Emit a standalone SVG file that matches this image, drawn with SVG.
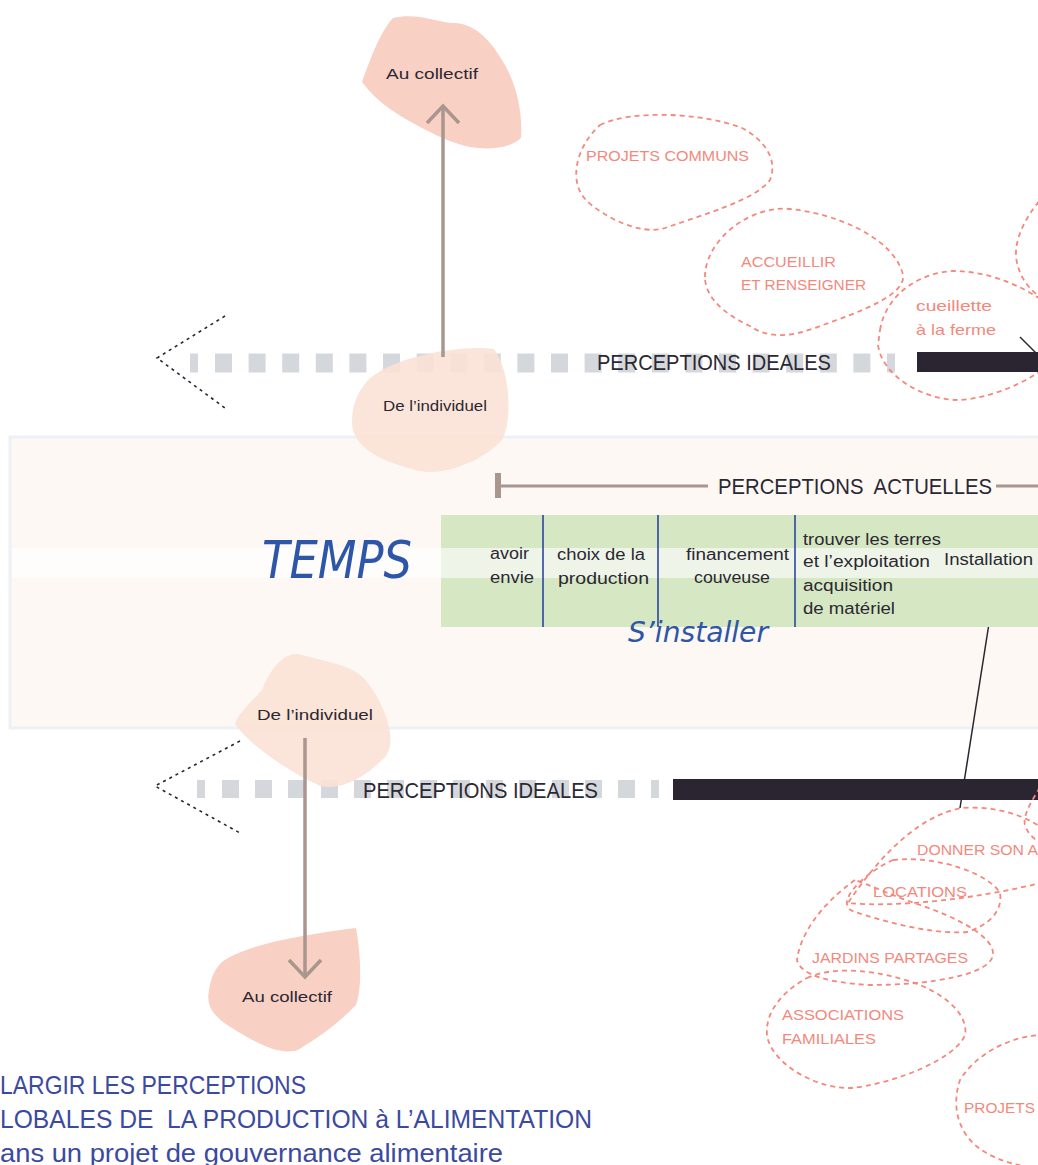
<svg xmlns="http://www.w3.org/2000/svg" width="1038" height="1165" viewBox="0 0 1038 1165">
<style>
.t{font-family:"Liberation Sans",Arial,sans-serif;fill:#2b2832}
.cell{font-size:16px}
.big{font-size:22px}
.small{font-size:14px}
.pk{font-family:"Liberation Sans",Arial,sans-serif;font-size:15px;fill:#f2897c}
.bub{fill:none;stroke:#f4887b;stroke-width:1.8;stroke-dasharray:5 4}
.blobA{fill:#f9d0c4}
.blobB{fill:#fbe1d5;opacity:0.9}
.sq{stroke:#d4d7dc;fill:none}
.chev{fill:none;stroke:#2a2530;stroke-width:1.6;stroke-dasharray:3 4}
.arr{fill:none;stroke:#a8968f;stroke-width:3.5}
.hand{font-family:"DejaVu Sans",sans-serif;font-style:italic;font-weight:200;fill:#2d55a8}
.blue{font-family:"Liberation Sans",Arial,sans-serif;font-size:25px;fill:#3b4aa0}
.vl{stroke:#2a46a0;stroke-width:1.6}
</style>

<!-- Time band -->
<g id="band">
  <rect x="10" y="437" width="1040" height="291" fill="#fdf8f4" stroke="#edf1f7" stroke-width="3"/>
  <rect x="12" y="548" width="1030" height="30" fill="#fefdfb"/>
  <text class="hand" x="262" y="578" font-size="52" textLength="150" lengthAdjust="spacingAndGlyphs">TEMPS</text>
</g>

<!-- blobs -->
<g id="au-collectif-top">
  <path class="blobA" d="M362,82 C370,60 380,32 393,18 C420,12 440,24 456,23 C476,25 490,40 502,60 C516,82 523,112 521,138 C510,149 486,150 470,147 C450,143 432,133 420,127 C400,116 378,104 362,82 Z"/>
  <text class="t small" x="386" y="79" textLength="92" lengthAdjust="spacingAndGlyphs">Au collectif</text>
</g>

<g id="au-collectif-bottom">
  <path class="blobA" d="M222,962 C245,945 300,935 356,928 C360,950 363,985 356,1005 C340,1022 318,1038 298,1050 C278,1056 255,1042 232,1028 C212,1016 206,1005 209,990 C211,978 214,970 222,962 Z"/>
  <text class="t small" x="242" y="1002" textLength="90" lengthAdjust="spacingAndGlyphs">Au collectif</text>
</g>

<!-- gray dotted lines (ideal perceptions) -->
<g id="connectors">
  <line class="sq" x1="190" y1="363" x2="198" y2="363" stroke-width="19"/>
  <line class="sq" x1="215" y1="363" x2="895" y2="363" stroke-width="19" stroke-dasharray="17 16.6"/>
  <line class="sq" x1="197" y1="789" x2="205" y2="789" stroke-width="18"/>
  <line class="sq" x1="222" y1="789" x2="659" y2="789" stroke-width="18" stroke-dasharray="17 16"/>
  <path class="chev" d="M225,316 L157,358 L225,408"/>
  <path class="chev" d="M240,741 L155,786 L240,833"/>
  <rect x="917" y="352" width="125" height="20" fill="#2a2530"/>
  <line x1="1020" y1="337" x2="1040" y2="357" stroke="#2a2530" stroke-width="1.5"/>
  <rect x="673" y="779" width="370" height="21" fill="#2a2530"/>
  <line x1="993" y1="598" x2="960" y2="808" stroke="#2a2530" stroke-width="1.5"/>
  <!-- actual perceptions bracket -->
  <line x1="498" y1="486" x2="708" y2="486" stroke="#a8968f" stroke-width="3"/>
  <line x1="498" y1="473" x2="498" y2="498" stroke="#a8968f" stroke-width="6"/>
  <line x1="996" y1="486" x2="1040" y2="486" stroke="#a8968f" stroke-width="3"/>
</g>

<g id="de-individuel-top">
  <path class="blobB" d="M368,380 C392,356 465,344 494,349 C510,370 513,420 502,440 C482,462 442,476 420,471 C382,462 352,448 352,422 C352,404 358,392 368,380 Z"/>
  <text class="t small" x="383" y="411" textLength="104" lengthAdjust="spacingAndGlyphs">De l’individuel</text>
</g>

<g id="de-individuel-bottom">
  <path class="blobB" d="M262,690 C272,664 288,650 302,655 C332,664 356,664 370,686 C386,708 400,746 382,760 C366,776 342,791 320,786 C290,772 250,746 235,724 C240,710 254,700 262,690 Z"/>
  <text class="t small" x="257" y="720" textLength="116" lengthAdjust="spacingAndGlyphs">De l’individuel</text>
</g>

<g id="arrows">
  <line class="arr" x1="443" y1="357" x2="443" y2="106"/>
  <path class="arr" d="M427,123 L443,106 L459,123"/>
  <line class="arr" x1="305" y1="738" x2="305" y2="975"/>
  <path class="arr" d="M289,960 L305,977 L321,960"/>
</g>

<g id="labels-ideal">
  <text class="t big" x="597" y="370" textLength="234" lengthAdjust="spacingAndGlyphs">PERCEPTIONS IDEALES</text>
  <text class="t big" x="363" y="798" textLength="235" lengthAdjust="spacingAndGlyphs">PERCEPTIONS IDEALES</text>
  <text class="t big" x="718" y="494" textLength="274" lengthAdjust="spacingAndGlyphs" style="white-space:pre">PERCEPTIONS  ACTUELLES</text>
</g>

<!-- table -->
<g id="table">
  <rect x="441" y="515" width="600" height="112" fill="#d6e7c3"/>
  <rect x="441" y="548" width="600" height="30" fill="#eef5e8"/>
  <line class="vl" x1="543" y1="515" x2="543" y2="627"/>
  <line class="vl" x1="658" y1="515" x2="658" y2="627"/>
  <line class="vl" x1="795" y1="515" x2="795" y2="627"/>
  <g id="cell-envie">
    <text class="t cell" x="490" y="559" textLength="39" lengthAdjust="spacingAndGlyphs">avoir</text>
    <text class="t cell" x="490" y="583" textLength="44" lengthAdjust="spacingAndGlyphs">envie</text>
  </g>
  <g id="cell-choix">
    <text class="t cell" x="557" y="560" textLength="88" lengthAdjust="spacingAndGlyphs">choix de la</text>
    <text class="t cell" x="558" y="584" textLength="91" lengthAdjust="spacingAndGlyphs">production</text>
  </g>
  <g id="cell-financement">
    <text class="t cell" x="686" y="560" textLength="103" lengthAdjust="spacingAndGlyphs">financement</text>
    <text class="t cell" x="694" y="583" textLength="76" lengthAdjust="spacingAndGlyphs">couveuse</text>
  </g>
  <g id="cell-terres">
    <text class="t cell" x="803" y="545" textLength="138" lengthAdjust="spacingAndGlyphs">trouver les terres</text>
    <text class="t cell" x="803" y="567" textLength="127" lengthAdjust="spacingAndGlyphs">et l’exploitation</text>
    <text class="t cell" x="803" y="591" textLength="90" lengthAdjust="spacingAndGlyphs">acquisition</text>
    <text class="t cell" x="803" y="614" textLength="92" lengthAdjust="spacingAndGlyphs">de matériel</text>
  </g>
  <g id="cell-installation">
    <text class="t cell" x="944" y="565" textLength="89" lengthAdjust="spacingAndGlyphs">Installation</text>
  </g>
  <text class="hand" x="628" y="642" font-size="28" textLength="140" lengthAdjust="spacingAndGlyphs">S’installer</text>
</g>

<!-- pink dashed bubbles -->
<g id="bubble-projets-communs">
  <path class="bub" d="M600,125 C630,110 700,112 742,128 C765,140 778,160 770,180 C755,200 705,214 665,228 C640,236 602,216 586,200 C570,184 573,150 600,125 Z"/>
  <text class="pk" x="586" y="161" textLength="163" lengthAdjust="spacingAndGlyphs">PROJETS COMMUNS</text>
</g>
<g id="bubble-accueillir">
  <path class="bub" d="M705,277 C705,240 750,205 790,209 C840,214 895,240 903,275 C906,295 860,312 820,326 C795,336 770,340 750,326 C720,312 705,295 705,277 Z"/>
  <text class="pk" x="741" y="267" textLength="95" lengthAdjust="spacingAndGlyphs">ACCUEILLIR</text>
  <text class="pk" x="741" y="290" textLength="125" lengthAdjust="spacingAndGlyphs">ET RENSEIGNER</text>
</g>
<g id="bubble-cueillette">
  <path class="bub" d="M880,330 C886,294 920,272 955,271 C990,272 1020,285 1045,302 L1045,368 C1022,385 985,400 955,400 C920,398 882,375 878,345 Z"/>
  <text class="pk" x="916" y="311" textLength="76" lengthAdjust="spacingAndGlyphs">cueillette</text>
  <text class="pk" x="916" y="335" textLength="80" lengthAdjust="spacingAndGlyphs">à la ferme</text>
</g>
<g id="bubble-top-right">
  <path class="bub" d="M1045,195 C1030,210 1015,235 1016,255 C1017,275 1030,292 1045,300"/>
</g>
<g id="bubble-donner">
  <path class="bub" d="M1045,830 C1020,812 990,806 962,808 C920,815 880,855 848,903 C900,908 980,898 1045,882"/>
  <path class="bub" d="M1045,780 C1035,795 1022,815 1025,825 C1028,835 1035,840 1045,845"/>
  <text class="pk" x="917" y="855" textLength="121" lengthAdjust="spacingAndGlyphs">DONNER SON A</text>
</g>
<g id="bubble-locations">
  <path class="bub" d="M893,860 C940,855 990,875 1000,893 C1003,910 990,925 967,932 C930,935 880,920 855,912 C832,905 862,874 893,860 Z"/>
  <text class="pk" x="873" y="897" textLength="94" lengthAdjust="spacingAndGlyphs">LOCATIONS</text>
</g>
<g id="bubble-jardins">
  <path class="bub" d="M855,880 C820,905 800,935 797,960 C800,975 830,983 870,985 C930,985 990,975 993,955 C995,935 950,915 920,905 C890,895 870,885 855,880 Z"/>
  <text class="pk" x="812" y="963" textLength="156" lengthAdjust="spacingAndGlyphs">JARDINS PARTAGES</text>
</g>
<g id="bubble-associations">
  <path class="bub" d="M807,978 C835,965 880,970 920,985 C955,1000 968,1020 965,1035 C955,1060 890,1085 850,1088 C810,1088 770,1060 767,1035 C765,1010 785,990 807,978 Z"/>
  <text class="pk" x="782" y="1020" textLength="122" lengthAdjust="spacingAndGlyphs">ASSOCIATIONS</text>
  <text class="pk" x="782" y="1044" textLength="94" lengthAdjust="spacingAndGlyphs">FAMILIALES</text>
</g>
<g id="bubble-projets">
  <path class="bub" d="M1045,1035 C1010,1035 975,1055 960,1080 C950,1110 960,1140 990,1155 C1010,1165 1030,1168 1045,1168"/>
  <text class="pk" x="964" y="1113" textLength="71" lengthAdjust="spacingAndGlyphs">PROJETS</text>
</g>

<g id="caption">
  <text class="blue" x="0" y="1094" textLength="306" lengthAdjust="spacingAndGlyphs">LARGIR LES PERCEPTIONS</text>
  <text class="blue" x="0" y="1128" textLength="592" lengthAdjust="spacingAndGlyphs" style="white-space:pre">LOBALES DE  LA PRODUCTION à L’ALIMENTATION</text>
  <text class="blue" x="0" y="1162" textLength="503" lengthAdjust="spacingAndGlyphs">ans un projet de gouvernance alimentaire</text>
</g>
</svg>
